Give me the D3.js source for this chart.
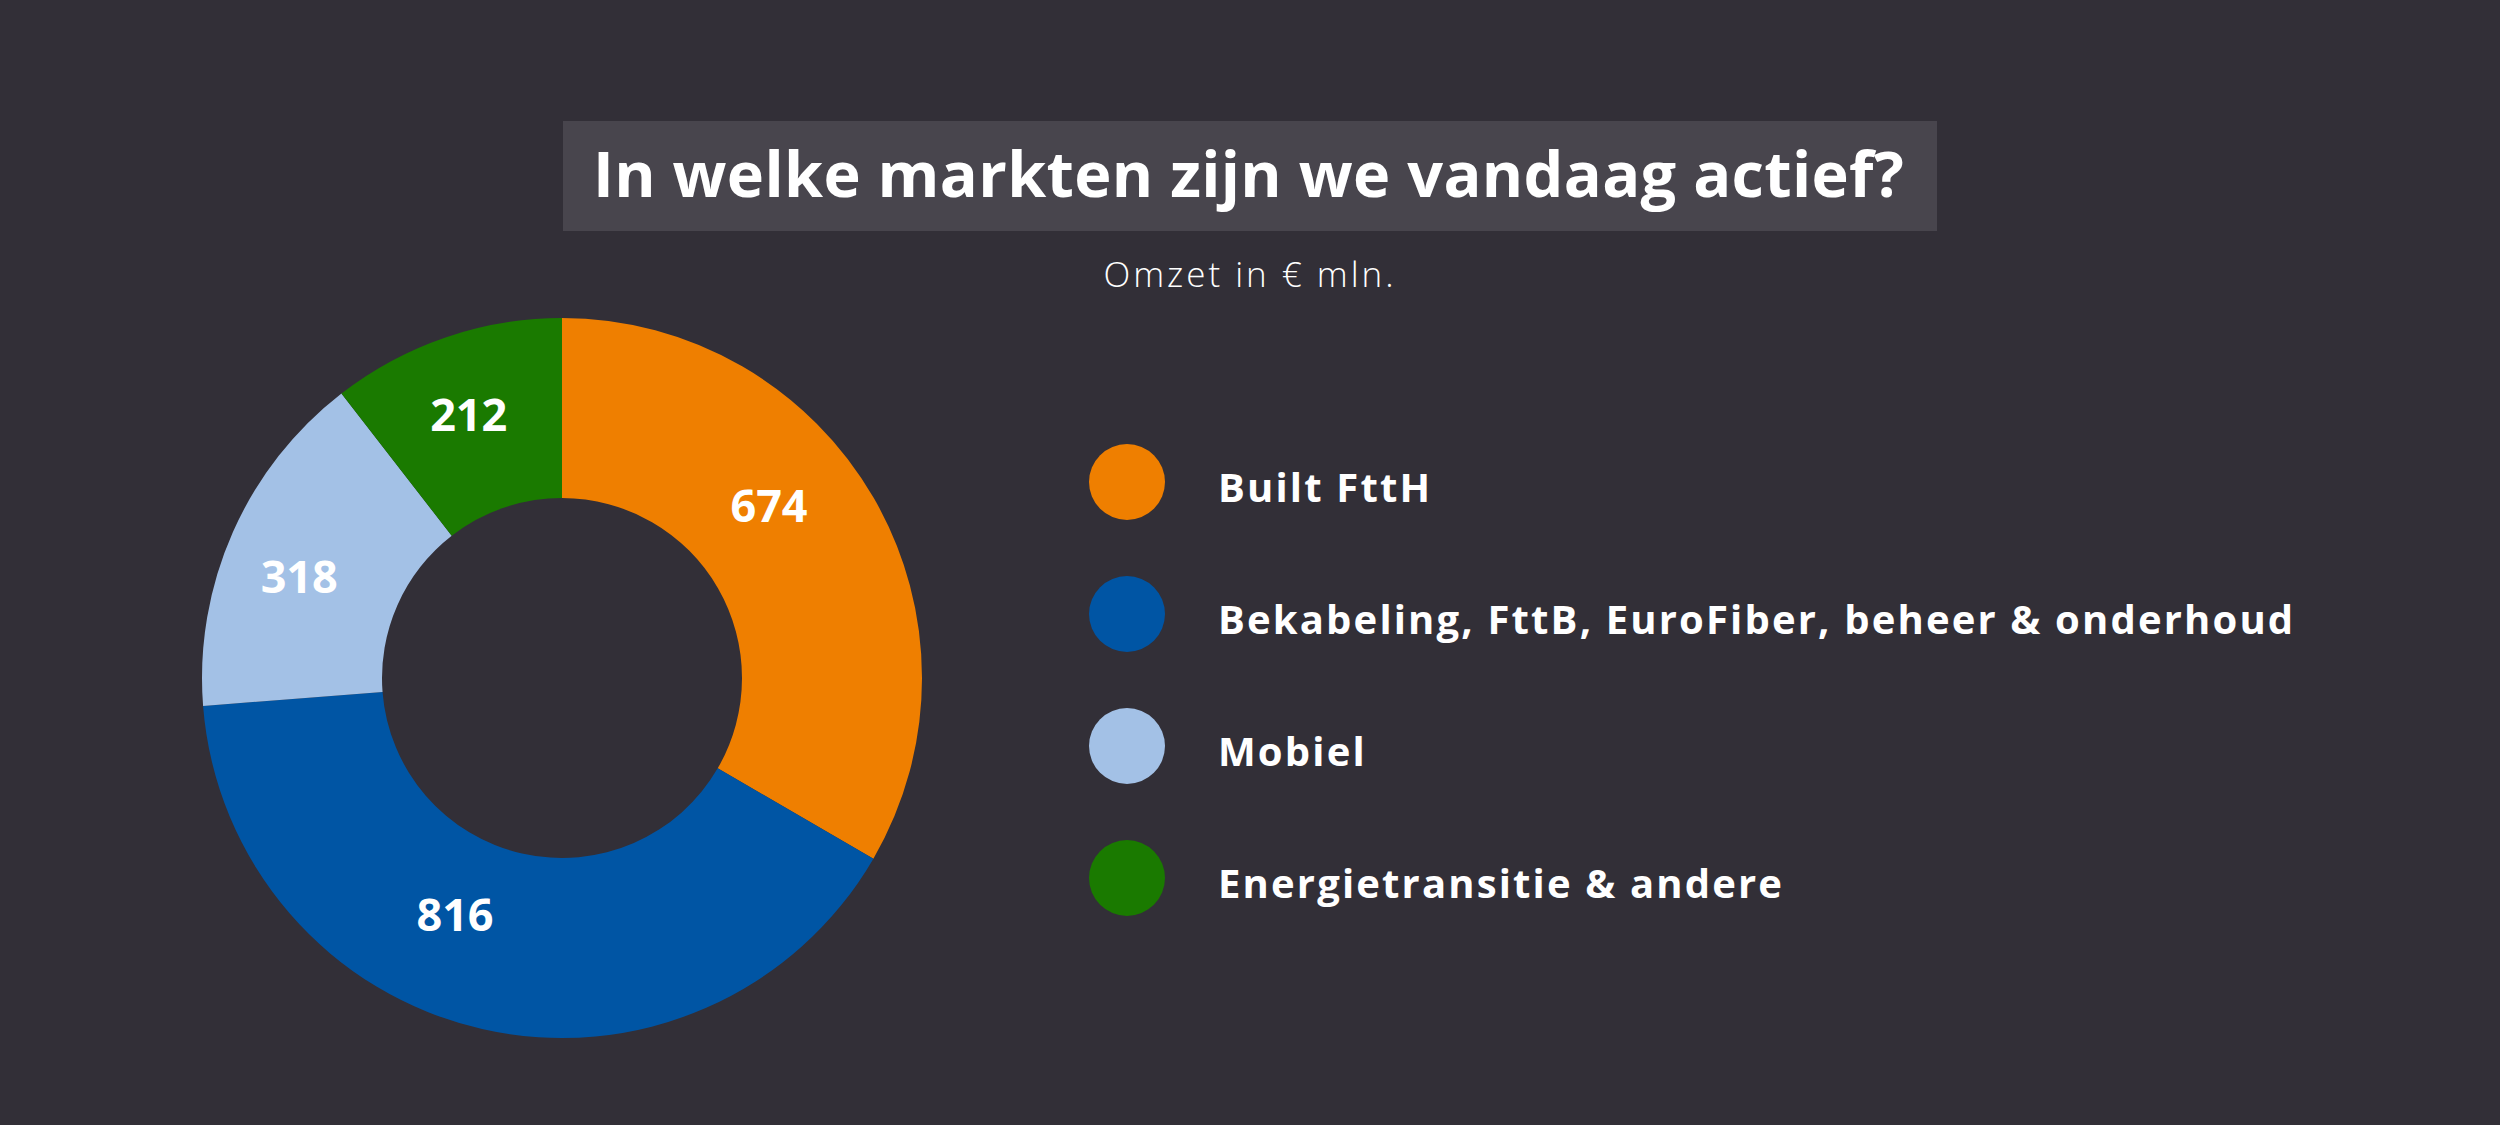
<!DOCTYPE html>
<html>
<head>
<meta charset="utf-8">
<script src="https://cdn.jsdelivr.net/npm/d3@7"></script>
<style>
  html, body { margin: 0; padding: 0; background: #322F37; }
  svg { display: block; }
  text { font-family: "Open Sans", "Noto Sans", sans-serif; fill: #ffffff; }
</style>
</head>
<body>
<script>
const categories = ["Built FttH", "Bekabeling, FttB, EuroFiber, beheer & onderhoud", "Mobiel", "Energietransitie & andere"];
const values = [674, 816, 318, 212];
const colors = ["#EF7F00", "#0055A4", "#A3C1E6", "#1A7A00"];
const titleText = "In welke markten zijn we vandaag actief?";
const subtitleText = "Omzet in € mln.";
// small label nudges (px) relative to the arc centroid, matching the reference placement
const labelNudge = [[-27, -37], [-47, -26], [-16, 8], [-6, -8]];

const W = 2500, H = 1125;
const svg = d3.select("body").append("svg").attr("width", W).attr("height", H);
svg.append("rect").attr("width", W).attr("height", H).attr("fill", "#322F37");

function fitWidth(sel, target) {
  const node = sel.node();
  const n = sel.text().length;
  const len = node.getComputedTextLength();
  sel.attr("letter-spacing", ((target - len) / Math.max(1, n - 1)).toFixed(2));
}

// Title box
svg.append("rect").attr("x", 563).attr("y", 121).attr("width", 1374).attr("height", 110).attr("fill", "#48454D");
const title = svg.append("text").attr("x", 593).attr("y", 197)
  .attr("font-size", 63).attr("font-weight", 700).text(titleText);
fitWidth(title, 1311);

const sub = svg.append("text").attr("x", 1250).attr("y", 287).attr("text-anchor", "middle")
  .attr("font-size", 35).attr("font-weight", 300).text(subtitleText);
fitWidth(sub, 290);

// Donut
const cx = 562, cy = 678, rOuter = 360, rInner = 180;
const pie = d3.pie().sort(null).value(d => d)(values);
const arc = d3.arc().innerRadius(rInner).outerRadius(rOuter);
const g = svg.append("g").attr("transform", `translate(${cx},${cy})`);
g.selectAll("path").data(pie).join("path")
  .attr("d", arc).attr("fill", (d, i) => colors[i]);
g.selectAll("text.val").data(pie).join("text").attr("class", "val")
  .attr("transform", (d, i) => {
    const c = arc.centroid(d);
    return `translate(${c[0] + labelNudge[i][0]},${c[1] + labelNudge[i][1]})`;
  })
  .attr("text-anchor", "middle").attr("dy", "0.36em")
  .attr("font-size", 45).attr("font-weight", 700)
  .text(d => d.data)
  .each(function() { fitWidth(d3.select(this), 77); });

// Legend
const ly = d3.scalePoint().domain(categories).range([482, 878]);
const lg = svg.append("g");
lg.selectAll("circle").data(categories).join("circle")
  .attr("cx", 1127).attr("cy", d => ly(d)).attr("r", 38)
  .attr("fill", (d, i) => colors[i]);
const lt = lg.selectAll("text").data(categories).join("text")
  .attr("x", 1218).attr("y", d => ly(d)).attr("dy", "0.5em")
  .attr("font-size", 40).attr("font-weight", 700).text(d => d);
const longest = lt.filter((d, i) => i === 1);
fitWidth(longest, 1075);
lt.attr("letter-spacing", longest.attr("letter-spacing"));
</script>
</body>
</html>
